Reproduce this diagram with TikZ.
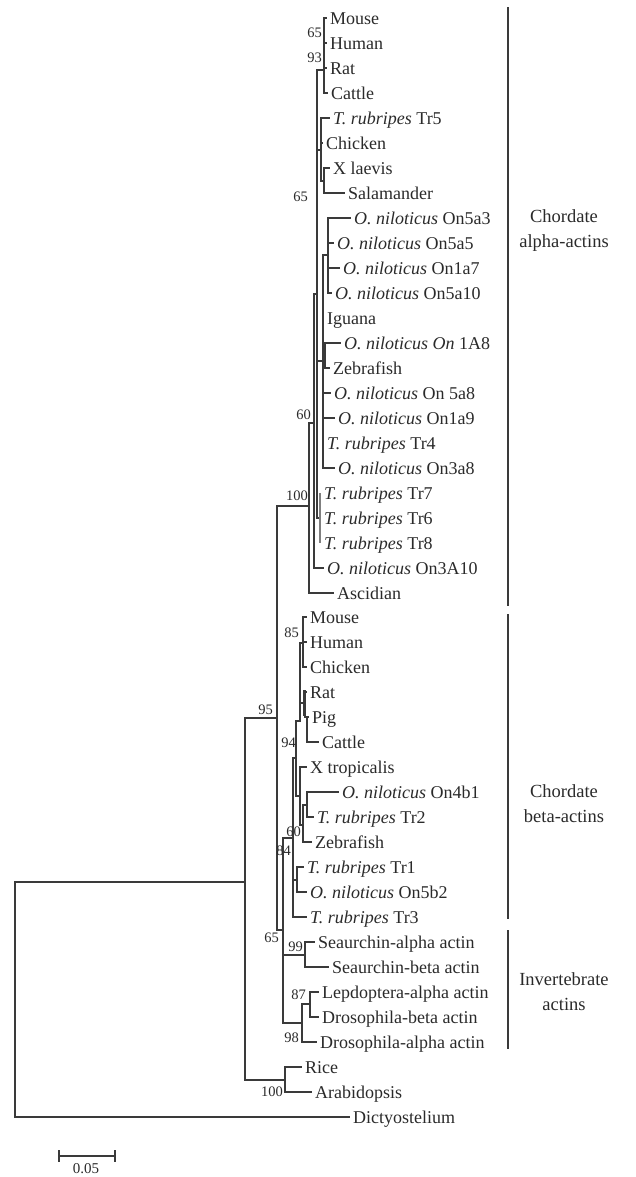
\documentclass[tikz,border=0pt]{standalone}
\usepackage{fontspec}
\setmainfont{Liberation Serif}
\definecolor{ln}{HTML}{3A3A3A}
\definecolor{tx}{HTML}{2A2A2A}
\tikzset{
  br/.style={draw=ln, line width=1.1pt, line cap=rect},
  thk/.style={draw=ln, line width=2.3pt},
  gry/.style={draw=ln!65, line width=2.2pt},
  leaf/.style={anchor=base west, inner sep=0pt, text=tx, font=\fontsize{18}{20}\selectfont},
  bs/.style={anchor=east, inner sep=0pt, text=tx, font=\fontsize{14.5}{15}\selectfont},
  clade/.style={align=center, inner sep=0pt, text=tx, font=\fontsize{18.5}{25}\selectfont},
}
\newcommand\lf[4]{\coordinate (#1) at (#2,#3); \node[leaf] (#1t) at (#2+4,#3+6.2) {#4};}
\begin{document}
\begin{tikzpicture}[x=1pt,y=-1pt]
\useasboundingbox (0,0) rectangle (636,1177);
% ---- leaves ----
\lf{a0}{326}{18}{Mouse}
\lf{a1}{326}{43}{Human}
\lf{a2}{326}{68}{Rat}
\lf{a3}{327}{93}{Cattle}
\lf{a4}{329}{118}{\textit{T. rubripes} Tr5}
\lf{a5}{322}{143}{Chicken}
\lf{a6}{329}{168}{X laevis}
\lf{a7}{344}{193}{Salamander}
\lf{a8}{350}{218}{\textit{O. niloticus} On5a3}
\lf{a9}{333}{243}{\textit{O. niloticus} On5a5}
\lf{a10}{339}{268}{\textit{O. niloticus} On1a7}
\lf{a11}{331}{293}{\textit{O. niloticus} On5a10}
\lf{a12}{323}{318}{Iguana}
\lf{a13}{340}{343}{\textit{O. niloticus On} 1A8}
\lf{a14}{329}{368}{Zebrafish}
\lf{a15}{330}{393}{\textit{O. niloticus} On 5a8}
\lf{a16}{334}{418}{\textit{O. niloticus} On1a9}
\lf{a17}{323}{443}{\textit{T. rubripes} Tr4}
\lf{a18}{334}{468}{\textit{O. niloticus} On3a8}
\lf{a19}{320}{493}{\textit{T. rubripes} Tr7}
\lf{a20}{320}{518}{\textit{T. rubripes} Tr6}
\lf{a21}{320}{543}{\textit{T. rubripes} Tr8}
\lf{a22}{323}{568}{\textit{O. niloticus} On3A10}
\lf{a23}{333}{593}{Ascidian}
\lf{b0}{306}{617}{Mouse}
\lf{b1}{306}{642}{Human}
\lf{b2}{306}{667}{Chicken}
\lf{b3}{306}{692}{Rat}
\lf{b4}{308}{717}{Pig}
\lf{b5}{318}{742}{Cattle}
\lf{b6}{306}{767}{X tropicalis}
\lf{b7}{338}{792}{\textit{O. niloticus} On4b1}
\lf{b8}{313}{817}{\textit{T. rubripes} Tr2}
\lf{b9}{311}{842}{Zebrafish}
\lf{b10}{303}{867}{\textit{T. rubripes} Tr1}
\lf{b11}{306}{892}{\textit{O. niloticus} On5b2}
\lf{b12}{306}{917}{\textit{T. rubripes} Tr3}
\lf{c0}{314}{942}{Seaurchin-alpha actin}
\lf{c1}{328}{967}{Seaurchin-beta actin}
\lf{c2}{318}{992}{Lepdoptera-alpha actin}
\lf{c3}{318}{1017}{Drosophila-beta actin}
\lf{c4}{316}{1042}{Drosophila-alpha actin}
\lf{p0}{301}{1067}{Rice}
\lf{p1}{311}{1092}{Arabidopsis}
\lf{d0}{349}{1117}{Dictyostelium}
% ---- root and plants ----
\draw[br] (245,882) -- (15,882) -- (15,1117) -- (d0);
\draw[br] (245,718) -- (245,1080) -- (285,1080);
\draw[br] (p0) -- (285,1067) -- (285,1092) -- (p1);
% ---- node 95 ----
\draw[br] (245,718) -- (277,718);
\draw[br] (309,506) -- (277,506) -- (277,930) -- (283,930);
% ---- alpha actins ----
\draw[br] (314,423) -- (309,423) -- (309,593) -- (a23);
\draw[br] (317,294) -- (314,294) -- (314,568) -- (a22);
\draw[br] (317,70) -- (317,518);
\draw[br] (317,70) -- (324,70);
\draw[br] (a0) -- (324,18) -- (324,93) -- (a3);
\draw[br] (324,43) -- (a1);
\draw[br] (324,68) -- (a2);
\draw[br] (317,150) -- (321,150);
\draw[thk] (321,122) -- (321,178);
\draw[br] (321,118) -- (321,181);
\draw[br] (321,118) -- (a4);
\draw[br] (321,143) -- (a5);
\draw[br] (321,181) -- (324,181);
\draw[br] (a6) -- (324,168) -- (324,193) -- (a7);
\draw[br] (317,361) -- (323,361);
\draw[br] (323,255) -- (323,468);
\draw[thk] (323,295) -- (323,320);
\draw[br] (323,255) -- (328,255);
\draw[br] (a8) -- (328,218) -- (328,293) -- (a11);
\draw[thk] (328,232) -- (328,293);
\draw[br] (328,243) -- (a9);
\draw[br] (328,268) -- (a10);
\draw[br] (323,355) -- (325,355);
\draw[br] (a13) -- (325,343) -- (325,368) -- (a14);
\draw[thk] (325,346) -- (325,366);
\draw[br] (323,393) -- (a15);
\draw[br] (323,418) -- (a16);
\draw[br] (323,468) -- (a18);
\draw[br] (317,518) -- (320,518);
\draw[gry] (320,493) -- (320,543);
% ---- beta actins ----
\draw[br] (283,838) -- (283,1023);
\draw[thk] (283,957) -- (283,992);
\draw[br] (283,838) -- (293,838);
\draw[br] (296,758) -- (293,758) -- (293,917) -- (b12);
\draw[br] (293,880) -- (297,880);
\draw[thk] (297,867) -- (297,892);
\draw[br] (297,867) -- (b10);
\draw[br] (297,892) -- (b11);
\draw[br] (296,721) -- (296,796);
\draw[br] (296,721) -- (300,721) -- (300,643) -- (303,643);
\draw[br] (b0) -- (303,617) -- (303,667) -- (b2);
\draw[br] (303,642) -- (b1);
\draw[br] (300,703) -- (304.5,703);
\draw[thk] (304.5,690) -- (304.5,716);
\draw[br] (304.5,692) -- (b3);
\draw[br] (304.5,717) -- (b4);
\draw[br] (307,717) -- (307,742) -- (b5);
\draw[br] (296,796) -- (300,796);
\draw[br] (300,767) -- (300,825) -- (303,825);
\draw[thk] (300,767) -- (300,797);
\draw[br] (300,767) -- (b6);
\draw[br] (303,805) -- (303,842) -- (b9);
\draw[br] (303,805) -- (307,805);
\draw[br] (b7) -- (307,792) -- (307,817) -- (b8);
% ---- invertebrates ----
\draw[br] (283,955) -- (305,955);
\draw[br] (c0) -- (305,942) -- (305,967) -- (c1);
\draw[br] (283,1023) -- (302,1023);
\draw[br] (302,1004) -- (302,1042) -- (c4);
\draw[br] (302,1004) -- (310,1004);
\draw[br] (c2) -- (310,992) -- (310,1017) -- (c3);
% ---- bootstrap values ----
\node[bs] (s1) at (322,33) {65};
\node[bs] (s2) at (322,58) {93};
\node[bs] (s3) at (308,197) {65};
\node[bs] (s4) at (311,415) {60};
\node[bs] (s5) at (308,496) {100};
\node[bs] (s6) at (273,710) {95};
\node[bs] (s7) at (299,633) {85};
\node[bs] (s8) at (296,743) {94};
\node[bs] (s9) at (301,832) {60};
\node[bs] (s10) at (291,851) {84};
\node[bs] (s11) at (279,938) {65};
\node[bs] (s12) at (303,947) {99};
\node[bs] (s13) at (306,995) {87};
\node[bs] (s14) at (299,1038) {98};
\node[bs] (s15) at (283,1092) {100};
% ---- clade brackets ----
\draw[br] (508,8) -- (508,605);
\draw[br] (508,615) -- (508,918);
\draw[br] (508,931) -- (508,1048);
\node[clade] (ka) at (564,230.5) {Chordate\\alpha-actins};
\node[clade] (kb) at (564,803.5) {Chordate\\beta-actins};
\node[clade] (kc) at (564,991.5) {Invertebrate\\actins};
% ---- scale bar ----
\draw[br] (59,1156) -- (115,1156);
\draw[br] (59,1151) -- (59,1161);
\draw[br] (115,1151) -- (115,1161);
\node[bs, anchor=center, font=\fontsize{15}{16}\selectfont] (sc) at (86,1169) {0.05};
\end{tikzpicture}
\end{document}
